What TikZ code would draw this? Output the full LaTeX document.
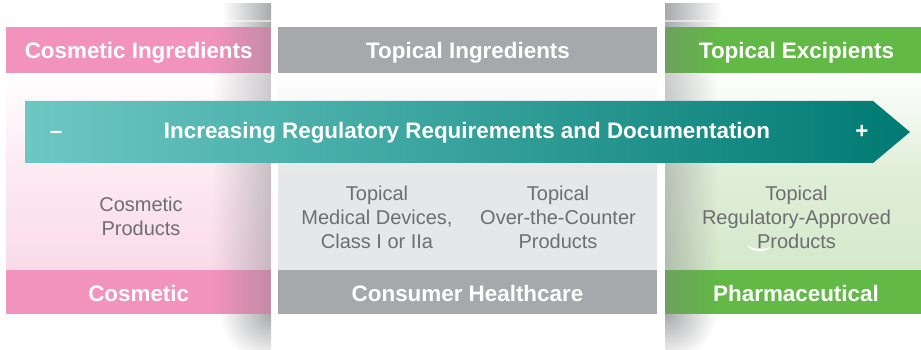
\documentclass[tikz,border=0pt]{standalone}
\usepackage{fontspec}
\setmainfont{Liberation Sans}
\usetikzlibrary{fadings}
\definecolor{pinkhdr}{HTML}{F293BE}
\definecolor{pinkbody}{HTML}{FADBE9}
\definecolor{greyhdr}{HTML}{A7A8AB}
\definecolor{greybody}{HTML}{E6E7E8}
\definecolor{greenhdr}{HTML}{62B946}
\definecolor{greenbody}{HTML}{D5E9CB}
\definecolor{tealL}{HTML}{6DC8C4}
\definecolor{tealM}{HTML}{00B3AE}
\definecolor{tealR}{HTML}{007A72}
\definecolor{bodytxt}{HTML}{6D6E71}
\definecolor{shadowc}{HTML}{7E7F82}
\definecolor{stripc}{HTML}{A8A9AB}
\tikzfading[name=shadeR, left color=transparent!100, right color=transparent!0]
\tikzfading[name=shadeL, left color=transparent!0, right color=transparent!100]
\begin{document}
\begin{tikzpicture}[x=1pt,y=-1pt,
  hdrtxt/.style={text=white, font=\fontsize{22.4}{26}\selectfont\bfseries, inner sep=0pt, text height=16pt, text depth=0pt},
  bodytext/.style={text=bodytxt, font=\fontsize{20}{24}\selectfont, align=center, inner sep=0pt},
  shadowR/.style={fill=shadowc, path fading=shadeR, fill opacity=0.4},
  shadowL/.style={fill=shadowc, path fading=shadeL, fill opacity=0.4}]
\useasboundingbox (0,0) rectangle (921,350);
\fill[white] (0,0) rectangle (921,350);
% column bodies
\shade[top color=white, bottom color=pinkbody, middle color=pinkbody!60!white] (6,73) rectangle (271,270);
\shade[top color=white, bottom color=greybody, middle color=greybody] (278,73) rectangle (657,270);
\shade[top color=white, bottom color=greenbody, middle color=greenbody!75!white] (665,73) rectangle (921,270);
% header and footer bands
\fill[pinkhdr] (6,27) rectangle (271,73);
\fill[greyhdr] (278,27) rectangle (657,73);
\fill[greenhdr] (665,27) rectangle (921,73);
\fill[pinkhdr] (6,270) rectangle (271,314);
\fill[greyhdr] (278,270) rectangle (657,314);
\fill[greenhdr] (665,270) rectangle (921,314);
% page shadows
\fill[shadowR] (212,27) rectangle (271,314);
\fill[shadowL] (665,27) rectangle (718,314);
\shade[left color=white, right color=stripc] (222,4) rectangle (271,27);
\shade[left color=stripc, right color=white] (665,4) rectangle (722,27);
\fill[white, opacity=0.55] (222,20) rectangle (271,22.5);
\fill[white, opacity=0.55] (665,20) rectangle (722,22.5);
\begin{scope}
  \clip (200,314) rectangle (271,350);
  \shade[inner color=stripc, outer color=white] (271,314) ellipse (52 and 48);
\end{scope}
\begin{scope}
  \clip (665,314) rectangle (740,350);
  \shade[inner color=stripc, outer color=white] (665,314) ellipse (52 and 48);
\end{scope}
% small white mark
\fill[white] (747,245) .. controls (752,253) and (765,253) .. (771,247) .. controls (764,250) and (754,250) .. cycle;
% arrow
\shade[left color=tealL, middle color=tealM, right color=tealR] (25,101) -- (873,101) -- (910,132) -- (873,163) -- (25,163) -- cycle;
% header texts
\node[hdrtxt] (h1) at (138.7,51) {Cosmetic Ingredients};
\node[hdrtxt] (h2) at (468,51) {Topical Ingredients};
\node[hdrtxt] (h3) at (796.5,51) {Topical Excipients};
% arrow texts
\node[hdrtxt] (arrtext) at (467,131) {Increasing Regulatory Requirements and Documentation};
\node[hdrtxt] (minus) at (56,131) {–};
\node[hdrtxt] (plus) at (862,131) {+};
% body texts
\node[bodytext] (b1) at (141,216) {Cosmetic\\Products};
\node[bodytext] (b2) at (377,217) {Topical\\Medical Devices,\\Class I or IIa};
\node[bodytext] (b3) at (558,217) {Topical\\Over-the-Counter\\Products};
\node[bodytext] (b4) at (796.5,217) {Topical\\Regulatory-Approved\\Products};
% footer texts
\node[hdrtxt] (f1) at (138.7,293) {Cosmetic};
\node[hdrtxt] (f2) at (467.5,293) {Consumer Healthcare};
\node[hdrtxt] (f3) at (796,293) {Pharmaceutical};
\end{tikzpicture}
\end{document}
